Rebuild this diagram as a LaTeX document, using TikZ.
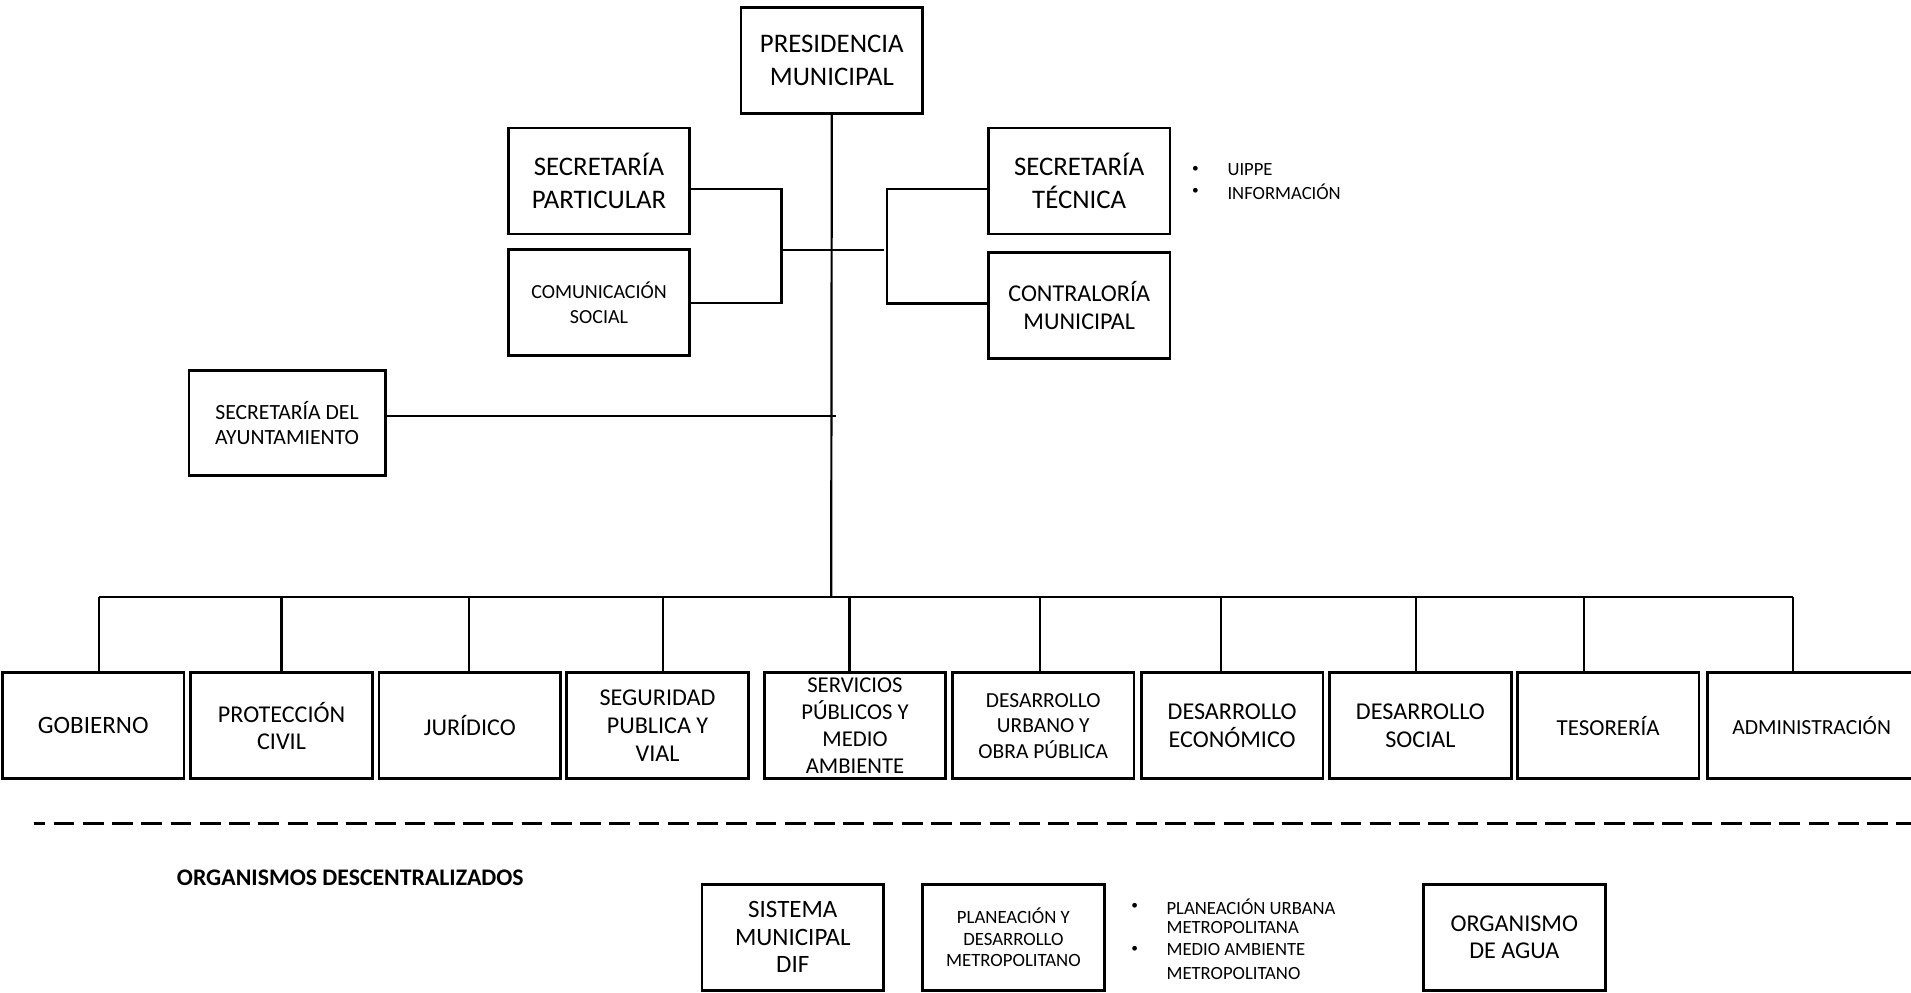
\documentclass[tikz,border=0pt]{standalone}
\usepackage{fontspec}
\setmainfont{Carlito}
\tikzset{
  orgbox/.style={draw, line width=2.3pt, minimum width=149pt, minimum height=87pt, inner sep=0pt, align=center},
  conn/.style={line width=1.8pt},
  fA/.style={font=\fontsize{22}{26.5}\selectfont},
  fB/.style={font=\fontsize{19.8}{22.5}\selectfont},
  lbl/.style={anchor=west, inner sep=0pt, font=\fontsize{15.3}{17}\selectfont},
  dot/.style={anchor=west, inner sep=0pt, font=\fontsize{11}{13}\selectfont},
}
\begin{document}
\begin{tikzpicture}[x=1pt,y=-1pt]
\useasboundingbox (0,0) rectangle (1568,814);
% top
\node[orgbox,fA] (pres) at (682.5,49.5) {PRESIDENCIA\\MUNICIPAL};
\node[orgbox,fA] (part) at (491.5,148.5) {SECRETARÍA\\PARTICULAR};
\node[orgbox,font=\fontsize{16.4}{20}\selectfont] (com) at (491.5,248.5) {COMUNICACIÓN\\SOCIAL};
\node[orgbox,fA] (tec) at (885.5,148.5) {SECRETARÍA\\TÉCNICA};
\node[orgbox,fB] (cont) at (885.5,250.5) {CONTRALORÍA\\MUNICIPAL};
\node[orgbox,font=\fontsize{17.8}{20.5}\selectfont,minimum width=161pt,minimum height=86pt] (ayu) at (235.5,347) {SECRETARÍA DEL\\AYUNTAMIENTO};
% bullets technical
\node[dot] (b1) at (978,139) {•};
\node[dot] (b2) at (978,157) {•};
\node[lbl] (t1) at (1007,139) {UIPPE};
\node[lbl] (t2) at (1007,157) {INFORMACIÓN};
% bottom row
\node[orgbox,font=\fontsize{20.5}{22}\selectfont] (gob) at (76.5,595.5) {GOBIERNO};
\node[orgbox,fB] (prot) at (231,595.5) {PROTECCIÓN\\CIVIL};
\node[orgbox,fB] (jur) at (385.5,595.5) {JURÍDICO};
\node[orgbox,font=\fontsize{19.8}{22.8}\selectfont] (seg) at (539.5,595.5) {SEGURIDAD\\PUBLICA Y\\VIAL};
\node[orgbox,font=\fontsize{18.6}{22}\selectfont] (serv) at (701.5,595.5) {SERVICIOS\\PÚBLICOS Y\\MEDIO\\AMBIENTE};
\node[orgbox,font=\fontsize{17.6}{21}\selectfont] (urb) at (856,595.5) {DESARROLLO\\URBANO Y\\OBRA PÚBLICA};
\node[orgbox,fB] (eco) at (1011,595.5) {DESARROLLO\\ECONÓMICO};
\node[orgbox,fB] (soc) at (1165.5,595.5) {DESARROLLO\\SOCIAL};
\node[orgbox,font=\fontsize{18.8}{21}\selectfont] (tes) at (1319.5,595.5) {TESORERÍA};
\node[orgbox,font=\fontsize{17.7}{21}\selectfont,minimum width=171pt] (adm) at (1486.5,595.5) {ADMINISTRACIÓN};
% connectors top
\coordinate (bus) at (682,490);
\draw[conn] (pres.south) -- (bus);
\draw[conn] ([yshift=-6.5pt]part.east) -- ++(74,0) coordinate (lb) |- (com.east);
\coordinate (lmid) at (640,205);
\coordinate (rmid) at (725,205);
\draw[conn] (lmid) -- (rmid);
\draw[conn] ([yshift=-6.5pt]tec.west) -- ++(-82,0) |- ([yshift=1.5pt]cont.west);
\coordinate (ayuend) at (686,341);
\draw[conn] ([yshift=6pt]ayu.east) -- (ayuend);
% bus
\coordinate (busL) at (81,490);
\coordinate (busR) at (1471,490);
\draw[conn] (busL) -- (busR);
\foreach \n/\x in {gob/81,prot/231,jur/385,seg/544,serv/697,urb/853,eco/1002,soc/1162,tes/1300,adm/1471}{
  \coordinate (d\n) at (\x,490);
  \draw[conn] (d\n) -- (d\n |- \n.north);
}
% dashed separator
\coordinate (dashL) at (28,676);
\coordinate (dashR) at (1570,676);
\draw[line width=2.5pt,dash pattern=on 17pt off 7pt,dash phase=8pt] (dashL) -- (dashR);
% organismos
\node[anchor=west,inner sep=0pt,font=\fontsize{19.5}{22}\selectfont\bfseries] (org) at (145,720) {ORGANISMOS DESCENTRALIZADOS};
\node[orgbox,font=\fontsize{20.5}{22.5}\selectfont] (dif) at (650.5,769) {SISTEMA\\MUNICIPAL\\DIF};
\node[orgbox,font=\fontsize{15.4}{17.5}\selectfont] (plan) at (831.5,769) {PLANEACIÓN Y\\DESARROLLO\\METROPOLITANO};
\node[orgbox,fB] (agua) at (1242.5,769) {ORGANISMO\\DE AGUA};
\node[dot] (pb1) at (928,744) {•};
\node[dot] (pb2) at (928,779) {•};
\node[lbl] (p1) at (957,744) {PLANEACIÓN URBANA};
\node[lbl] (p2) at (957,761) {METROPOLITANA};
\node[lbl] (p3) at (957,779) {MEDIO AMBIENTE};
\node[lbl] (p4) at (957,799) {METROPOLITANO};
\end{tikzpicture}
\end{document}
